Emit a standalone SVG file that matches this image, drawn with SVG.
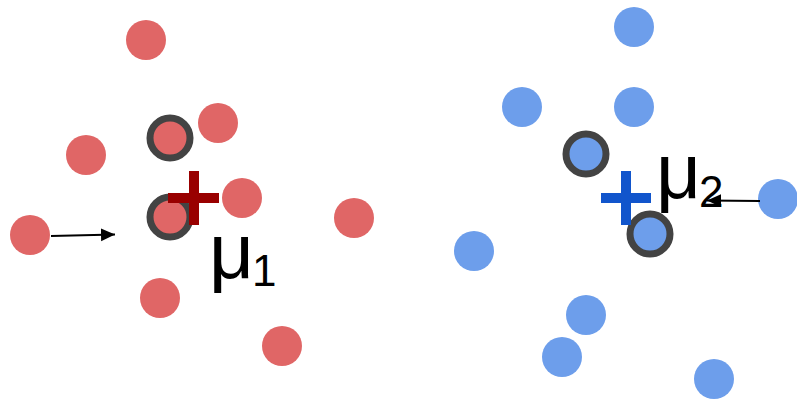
<svg xmlns="http://www.w3.org/2000/svg" width="797" height="402" viewBox="0 0 797 402">
<style>
.r{fill:#e06666}
.b{fill:#6d9eeb}
.ring{fill:none;stroke:#434343;stroke-width:7}
.lbl{font-family:"Liberation Sans",Arial,sans-serif;fill:#000;font-size:78px}
.sub{font-size:44px}
.con{stroke:#000;stroke-width:2;fill:none}
</style>
<defs>
<marker id="ah" markerWidth="8" markerHeight="8" refX="7" refY="4" orient="auto" markerUnits="strokeWidth">
<path d="M0,0.8 L7,4 L0,7.2 Z" fill="#000"/>
</marker>
</defs>
<rect width="797" height="402" fill="#fff"/>
<g id="red-points">
<circle class="r" cx="146" cy="40" r="20"/>
<circle class="r" cx="218" cy="123" r="20"/>
<circle class="r" cx="86" cy="155" r="20"/>
<circle class="r" cx="242" cy="198" r="20"/>
<circle class="r" cx="30" cy="235" r="20"/>
<circle class="r" cx="354" cy="218" r="20"/>
<circle class="r" cx="160" cy="298" r="20"/>
<circle class="r" cx="282" cy="346" r="20"/>
</g>
<g id="red-ring-1">
<circle class="r" cx="170" cy="138" r="20"/>
<circle class="ring" cx="170" cy="138" r="20"/>
</g>
<g id="red-ring-2">
<circle class="r" cx="170" cy="217" r="20"/>
<circle class="ring" cx="170" cy="217" r="20"/>
</g>
<g id="centroid-1">
<rect x="168" y="193" width="51" height="10" fill="#990000"/>
<rect x="189" y="171" width="10" height="54" fill="#990000"/>
</g>
<g id="blue-points">
<circle class="b" cx="634" cy="27" r="20"/>
<circle class="b" cx="522" cy="107" r="20"/>
<circle class="b" cx="634" cy="107" r="20"/>
<circle class="b" cx="778" cy="199" r="20"/>
<circle class="b" cx="474" cy="251" r="20"/>
<circle class="b" cx="586" cy="315" r="20"/>
<circle class="b" cx="562" cy="357" r="20"/>
<circle class="b" cx="714" cy="379" r="20"/>
</g>
<g id="blue-ring-1">
<circle class="b" cx="586" cy="154" r="20"/>
<circle class="ring" cx="586" cy="154" r="20"/>
</g>
<g id="blue-ring-2">
<circle class="b" cx="650" cy="234" r="20"/>
<circle class="ring" cx="650" cy="234" r="20"/>
</g>
<g id="centroid-2">
<rect x="601" y="193" width="50" height="10" fill="#1155cc"/>
<rect x="621" y="171" width="10" height="54" fill="#1155cc"/>
</g>
<g id="label-mu1">
<text class="lbl" x="209" y="278">μ<tspan class="sub" dx="-2" dy="8">1</tspan></text>
</g>
<g id="label-mu2">
<text class="lbl" x="656" y="198">μ<tspan class="sub" dx="-2" dy="9">2</tspan></text>
</g>
<g id="connectors">
<line class="con" x1="51" y1="236" x2="115" y2="234.5" marker-end="url(#ah)"/>
<line class="con" x1="760" y1="201" x2="707" y2="200.5" marker-end="url(#ah)"/>
</g>
</svg>
